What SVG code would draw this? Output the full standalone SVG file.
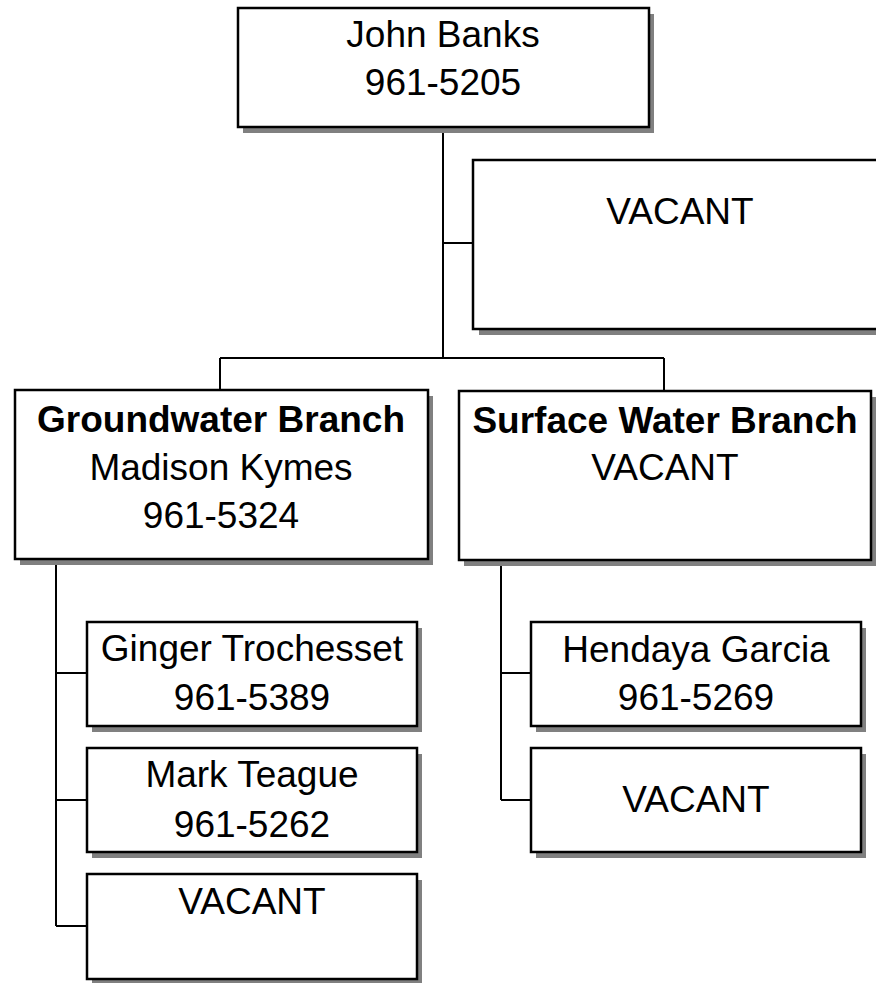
<svg xmlns="http://www.w3.org/2000/svg" width="876" height="983" viewBox="0 0 876 983">
<style>
.box{fill:#fff;stroke:#000;stroke-width:2.5}
.sh{fill:#808080}
.t{font-family:"Liberation Sans",Arial,sans-serif;font-size:37px;text-anchor:middle;fill:#000}
.b{font-weight:bold}
.c{stroke:#000;stroke-width:2;fill:none}
</style>
<rect width="876" height="983" fill="#fff"/>
<g id="connectors">
<path class="c" d="M443 127V358M443 243H473M220 358H664M220 358V390M664 358V391"/>
<path class="c" d="M56 559V926M56 673H87M56 800H87M56 926H87"/>
<path class="c" d="M501 560V800M501 673H531M501 800H531"/>
</g>
<g id="n-john">
<rect class="sh" x="243" y="14" width="411" height="119"/>
<rect class="box" x="238" y="8" width="411" height="119"/>
<text class="t" x="443" y="47">John Banks</text>
<text class="t" x="443" y="95">961-5205</text>
</g>
<g id="n-vacant-top">
<rect class="sh" x="479" y="166" width="414" height="169"/>
<rect class="box" x="473" y="160" width="414" height="169"/>
<text class="t" x="680" y="224">VACANT</text>
</g>
<g id="n-groundwater">
<rect class="sh" x="20" y="396" width="413" height="169"/>
<rect class="box" x="15" y="390" width="413" height="169"/>
<text class="t b" x="221" y="432">Groundwater Branch</text>
<text class="t" x="221" y="480">Madison Kymes</text>
<text class="t" x="221" y="528">961-5324</text>
</g>
<g id="n-surface">
<rect class="sh" x="464" y="397" width="412" height="169"/>
<rect class="box" x="459" y="391" width="412" height="169"/>
<text class="t b" x="665" y="433">Surface Water Branch</text>
<text class="t" x="665" y="480">VACANT</text>
</g>
<g id="n-ginger">
<rect class="sh" x="92" y="628" width="330" height="104"/>
<rect class="box" x="87" y="622" width="330" height="104"/>
<text class="t" x="252" y="661">Ginger Trochesset</text>
<text class="t" x="252" y="710">961-5389</text>
</g>
<g id="n-mark">
<rect class="sh" x="92" y="754" width="330" height="104"/>
<rect class="box" x="87" y="748" width="330" height="104"/>
<text class="t" x="252" y="787">Mark Teague</text>
<text class="t" x="252" y="837">961-5262</text>
</g>
<g id="n-vacant-gw">
<rect class="sh" x="92" y="880" width="330" height="105"/>
<rect class="box" x="87" y="874" width="330" height="105"/>
<text class="t" x="252" y="914">VACANT</text>
</g>
<g id="n-hendaya">
<rect class="sh" x="536" y="628" width="330" height="104"/>
<rect class="box" x="531" y="622" width="330" height="104"/>
<text class="t" x="696" y="662">Hendaya Garcia</text>
<text class="t" x="696" y="710">961-5269</text>
</g>
<g id="n-vacant-sw">
<rect class="sh" x="536" y="754" width="330" height="104"/>
<rect class="box" x="531" y="748" width="330" height="104"/>
<text class="t" x="696" y="812">VACANT</text>
</g>
</svg>
